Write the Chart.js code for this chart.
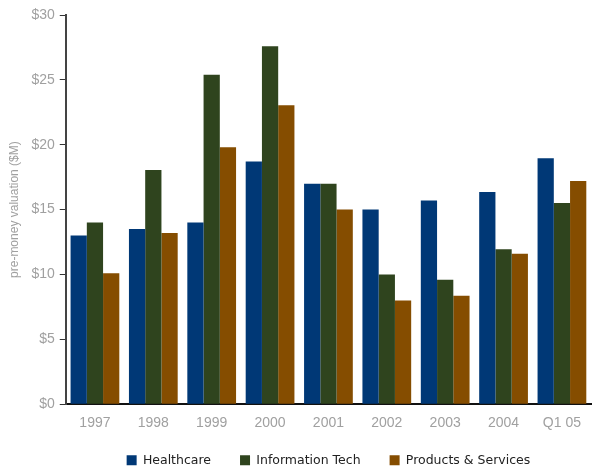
<!DOCTYPE html>
<html>
<head>
<meta charset="utf-8">
<script src="https://cdn.jsdelivr.net/npm/chart.js@4/dist/chart.umd.min.js"></script>
<style>
  html, body { margin: 0; padding: 0; background: #fff; }
  #wrap { width: 592px; height: 470px; }
</style>
</head>
<body>
<div id="wrap"><canvas id="valuation-chart"></canvas></div>
<script>
const years = ['1997', '1998', '1999', '2000', '2001', '2002', '2003', '2004', 'Q1 05'];
const healthcare = [13.0, 13.5, 14.0, 18.7, 17.0, 15.0, 15.7, 16.35, 18.95];
const infoTech = [14.0, 18.05, 25.4, 27.6, 17.0, 10.0, 9.6, 11.95, 15.5];
const productsServices = [10.1, 13.2, 19.8, 23.05, 15.0, 8.0, 8.35, 11.6, 17.2];

// legend padding is used for the gap between items, so pin its height
// and pull its top up once the layout is done (bottom stays, so no clipping)
const legendFix = {
  id: 'legendFix',
  beforeInit(chart) {
    const fit = chart.legend.fit;
    chart.legend.fit = function () {
      fit.call(this);
      this.height = 27;
    };
  },
  afterLayout(chart) {
    chart.legend.top -= 18;
  }
};

const ctx = document.getElementById('valuation-chart').getContext('2d');

new Chart(ctx, {
  type: 'bar',
  data: {
    labels: years,
    datasets: [
      { label: 'Healthcare', data: healthcare, backgroundColor: '#003876' },
      { label: 'Information Tech', data: infoTech, backgroundColor: '#2f441e' },
      { label: 'Products & Services', data: productsServices, backgroundColor: '#854d00' },
    ]
  },
  options: {
    responsive: true,
    maintainAspectRatio: false,
    animation: false,
    layout: { padding: { top: 15, right: 0, left: 7, bottom: 0 } },
    datasets: {
      bar: { barPercentage: 1, categoryPercentage: 0.835 }
    },
    scales: {
      x: {
        grid: { display: false, drawTicks: false },
        border: { display: true, color: '#111', width: 2 },
        ticks: {
          color: '#a0a0a0',
          font: { family: 'Liberation Sans', size: 14 },
          maxRotation: 0,
          padding: 11
        }
      },
      y: {
        min: 0,
        max: 30,
        grid: { drawOnChartArea: false, tickLength: 6, color: '#333', lineWidth: 1 },
        border: { display: true, color: '#444', width: 2 },
        ticks: {
          stepSize: 5,
          color: '#a0a0a0',
          font: { family: 'Liberation Sans', size: 14 },
          padding: 5,
          callback: v => '$' + v
        },
        title: {
          display: true,
          text: 'pre-money valuation ($M)',
          color: '#a0a0a0',
          font: { family: 'Liberation Sans', size: 12 },
          padding: { top: 0, bottom: 5 }
        }
      }
    },
    plugins: {
      tooltip: { enabled: false },
      legend: {
        position: 'bottom',
        fullSize: false,
        labels: {
          color: '#222',
          font: { family: 'DejaVu Sans', size: 12.5 },
          boxWidth: 10,
          boxHeight: 10,
          padding: 29
        }
      }
    }
  },
  plugins: [legendFix]
});
</script>
</body>
</html>
